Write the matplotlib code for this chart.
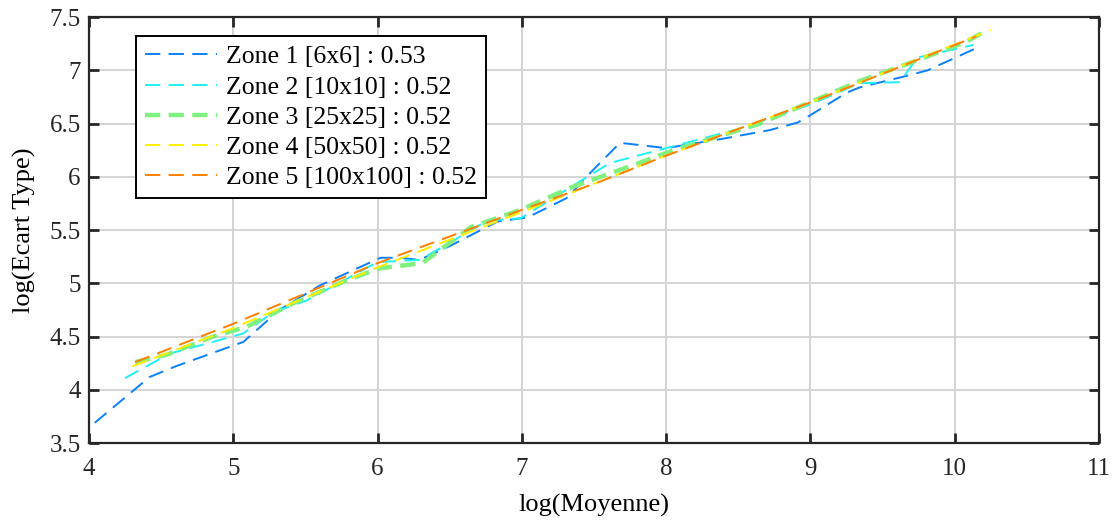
import matplotlib.pyplot as plt

plt.rcParams['font.family'] = ['Liberation Serif', 'DejaVu Serif']
plt.rcParams['lines.scale_dashes'] = False

# data (log mean, log std) for each zone
x1 = [4.04, 4.42, 4.6, 5.07, 5.32, 5.6, 6.02, 6.15, 6.29, 6.5, 6.83, 7.04, 7.31, 7.49, 7.68, 8.0, 8.4, 8.72, 8.91, 9.0, 9.25, 9.34, 9.64, 9.81, 10.15]
y1 = [3.69, 4.12, 4.22, 4.45, 4.75, 4.98, 5.24, 5.24, 5.22, 5.35, 5.58, 5.62, 5.80, 6.06, 6.32, 6.27, 6.36, 6.44, 6.51, 6.58, 6.79, 6.84, 6.94, 7.0, 7.21]

x2 = [4.25, 4.56, 4.86, 5.07, 5.28, 5.51, 6.0, 6.29, 6.5, 6.76, 6.99, 7.31, 7.61, 8.0, 8.5, 9.0, 9.34, 9.62, 9.74, 10.13]
y2 = [4.11, 4.34, 4.45, 4.53, 4.73, 4.84, 5.20, 5.22, 5.38, 5.59, 5.61, 5.88, 6.13, 6.27, 6.45, 6.68, 6.88, 6.89, 7.12, 7.24]

x3 = [4.32, 4.54, 4.86, 5.09, 5.41, 5.79, 6.01, 6.31, 6.65, 6.99, 7.34, 7.77, 8.05, 8.65, 9.34, 9.69, 10.08, 10.2]
y3 = [4.26, 4.33, 4.50, 4.59, 4.81, 5.03, 5.14, 5.19, 5.53, 5.69, 5.90, 6.11, 6.25, 6.50, 6.90, 7.07, 7.27, 7.36]

x4 = [4.3, 5.0, 6.0, 7.0, 8.0, 9.0, 10.25]
y4 = [4.22, 4.58, 5.15, 5.67, 6.20, 6.70, 7.38]

x5 = [4.32, 5.0, 6.0, 7.0, 7.55, 8.0, 9.0, 10.15]
y5 = [4.26, 4.62, 5.19, 5.69, 5.96, 6.20, 6.70, 7.32]

labels = ['Zone 1 [6x6] : 0.53', 'Zone 2 [10x10] : 0.52', 'Zone 3 [25x25] : 0.52',
          'Zone 4 [50x50] : 0.52', 'Zone 5 [100x100] : 0.52']
colors = ['#0a80ff', '#1ef0f5', '#80f080', '#ffee00', '#ff8000']

fig = plt.figure(figsize=(11.15, 5.21), dpi=100)
ax = fig.add_axes([0.0798, 0.1497, 0.9059, 0.8173])

ax.plot(x1, y1, color=colors[0], lw=1.4, dashes=(11, 6), label=labels[0])
ax.plot(x2, y2, color=colors[1], lw=1.4, dashes=(11, 6), label=labels[1])
ax.plot(x3, y3, color=colors[2], lw=3.2, dashes=(11, 6), label=labels[2])
ax.plot(x4, y4, color=colors[3], lw=1.4, dashes=(11, 6), label=labels[3])
ax.plot(x5, y5, color=colors[4], lw=1.4, dashes=(11, 6), label=labels[4])

ax.set_xlim(4, 11)
ax.set_ylim(3.5, 7.5)
ax.set_xticks(range(4, 12))
ax.set_yticks([3.5, 4, 4.5, 5, 5.5, 6, 6.5, 7, 7.5])
ax.set_yticklabels(['3.5', '4', '4.5', '5', '5.5', '6', '6.5', '7', '7.5'])
ax.grid(True, color='#d4d4d4', lw=1.4)
ax.set_axisbelow(True)

ax.tick_params(direction='in', length=7, width=2, labelsize=18, colors='#262626',
               top=True, right=True, pad=6)
ax.tick_params(axis='x', pad=11)
for s in ax.spines.values():
    s.set_linewidth(1.6)
    s.set_color('#262626')

ax.set_xlabel('log(Moyenne)', fontsize=19, labelpad=10)
ax.set_ylabel('log(Ecart Type)', fontsize=19, labelpad=10)

leg = ax.legend(loc='upper left', bbox_to_anchor=(0.047, 0.955), fontsize=18.5, fancybox=False,
                framealpha=1, edgecolor='black', handlelength=2.8, borderpad=0.35,
                labelspacing=0.28, handletextpad=0.35, borderaxespad=0)
leg.get_frame().set_linewidth(1.4)

fig.savefig('out.png', dpi=100)
